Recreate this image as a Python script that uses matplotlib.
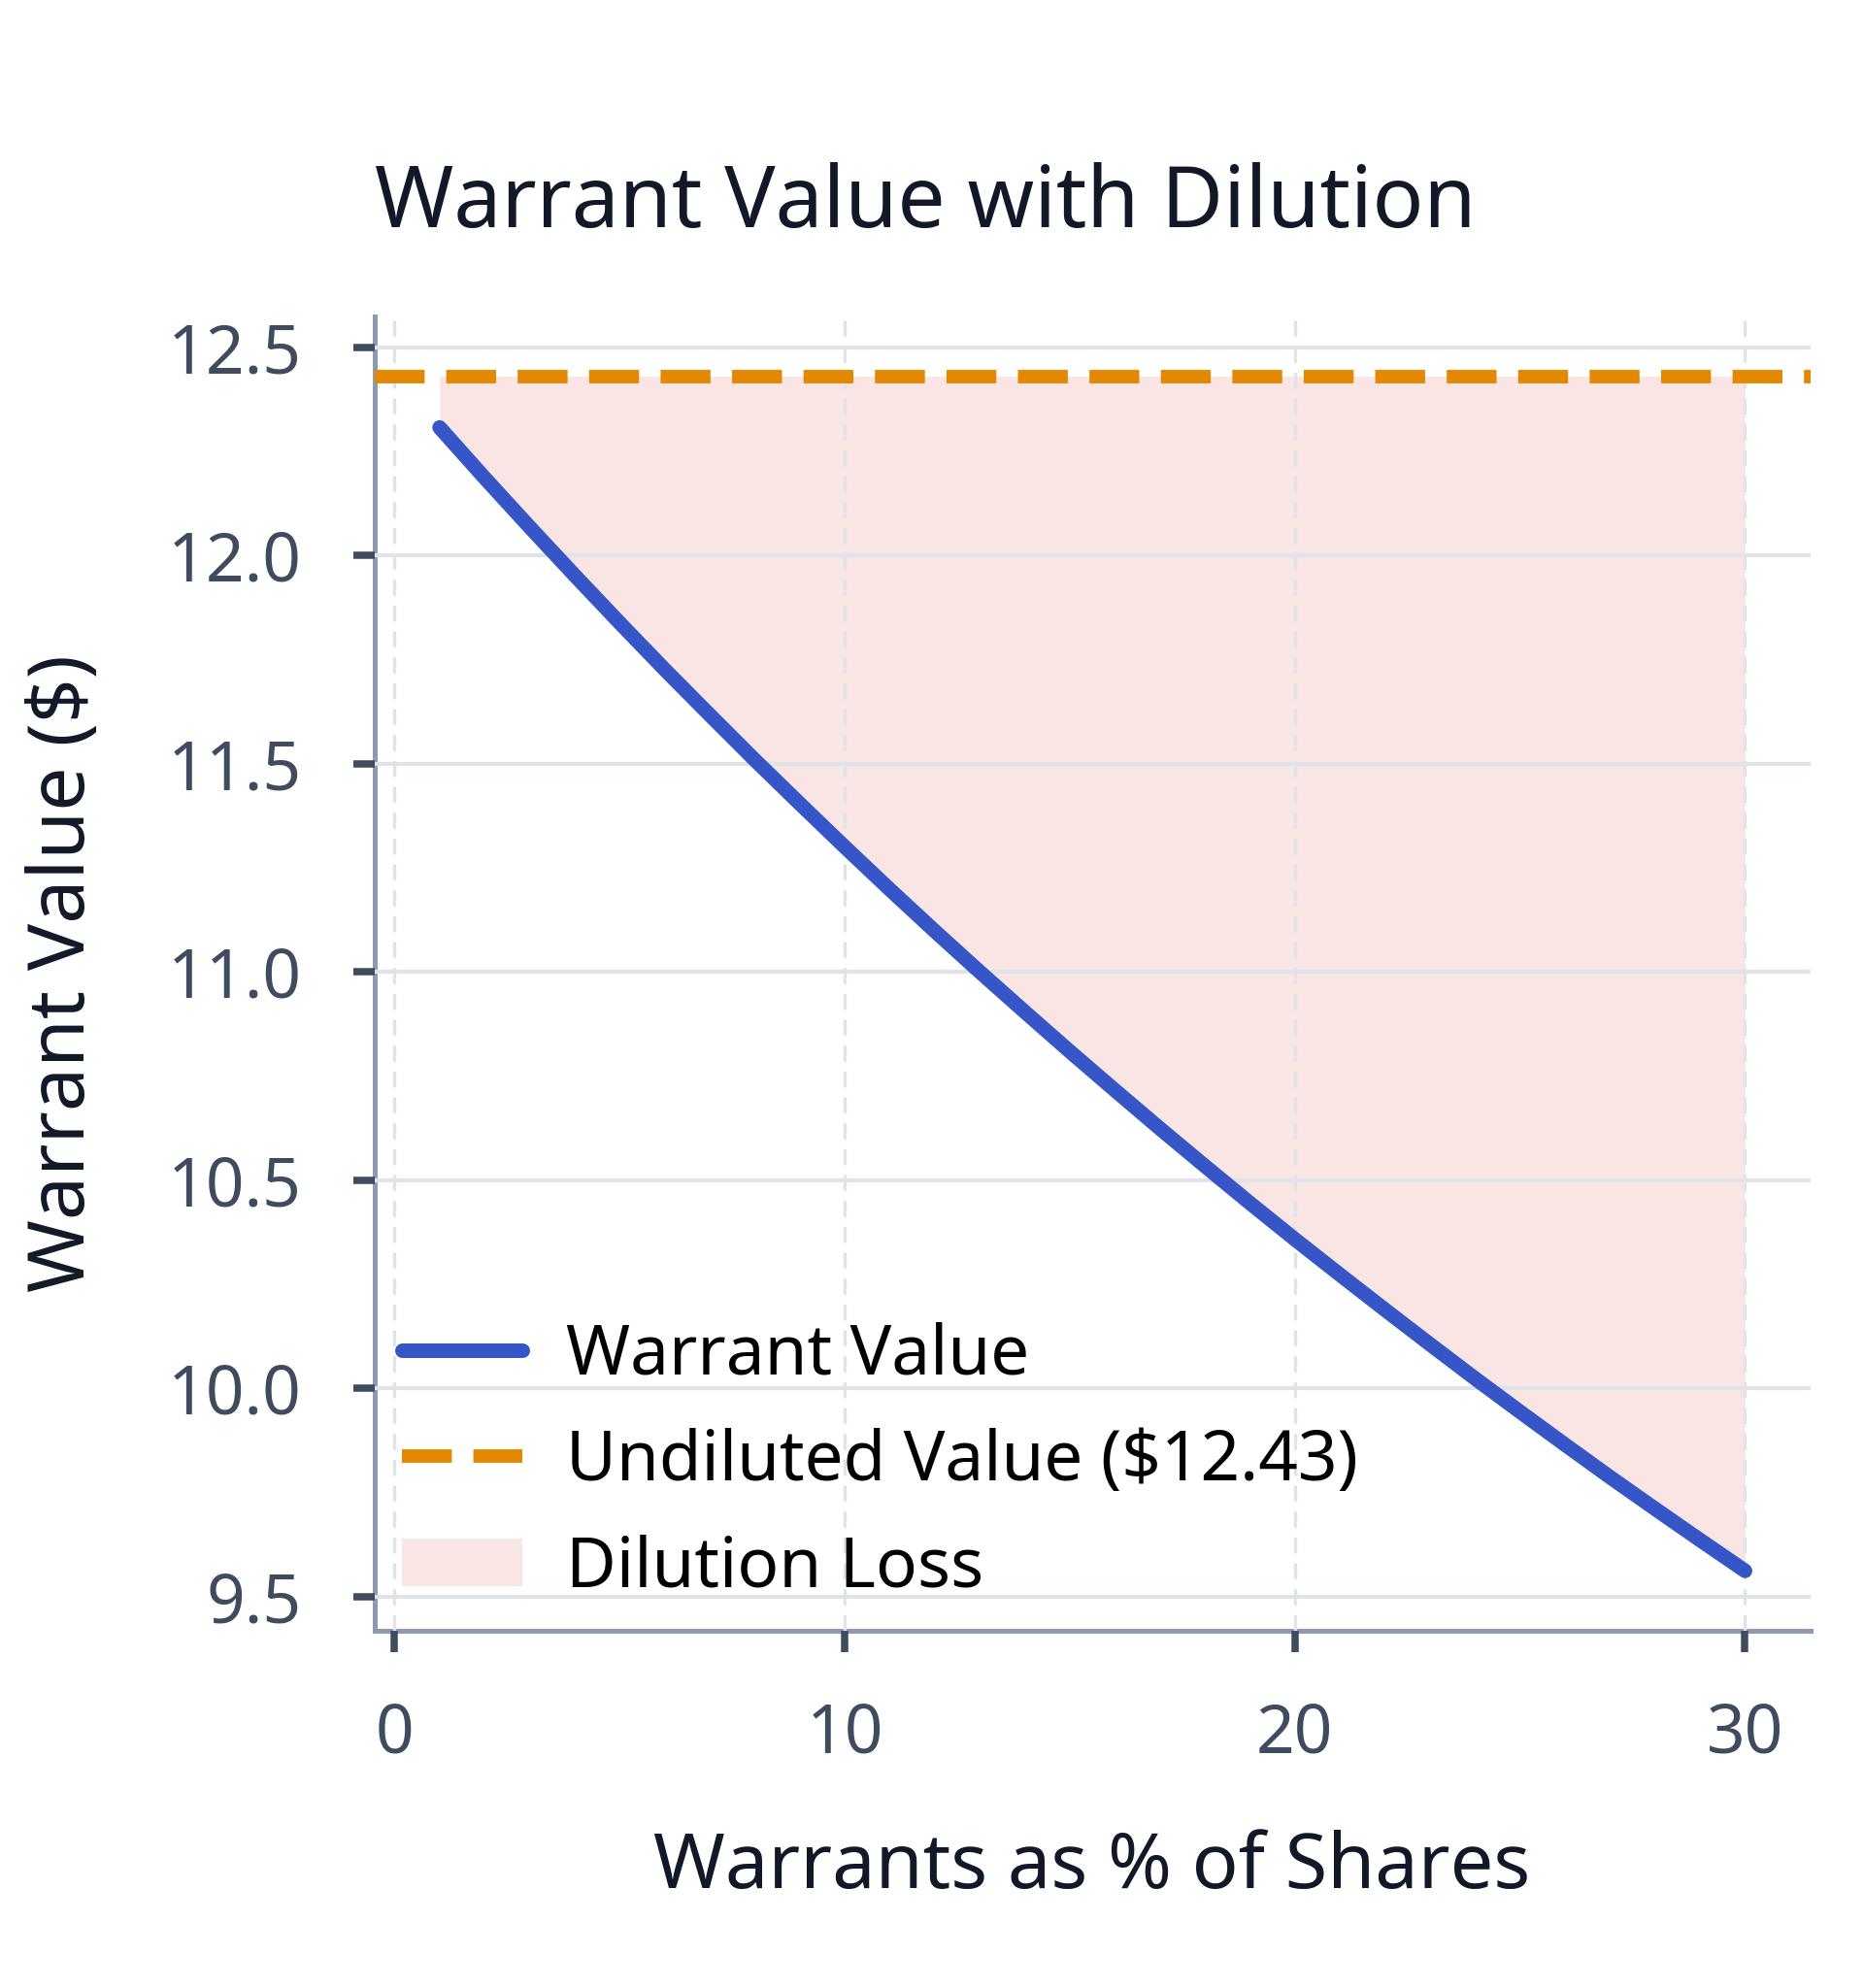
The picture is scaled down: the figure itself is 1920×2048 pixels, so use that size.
import matplotlib
matplotlib.use("Agg")
import matplotlib.pyplot as plt

# 数据：认股权证占股份比例 (%) 与稀释后价值
warrant_pct = list(range(1, 31))
warrant_value = [12.307, 12.186, 12.068, 11.952, 11.838, 11.726, 11.617, 11.509, 11.404, 11.300,
                 11.198, 11.098, 11.000, 10.904, 10.809, 10.716, 10.624, 10.534, 10.445, 10.358,
                 10.273, 10.189, 10.106, 10.024, 9.944, 9.865, 9.787, 9.711, 9.636, 9.562]
undiluted_value = 12.43
x_ticks = [0, 10, 20, 30]
y_ticks = [9.5, 10.0, 10.5, 11.0, 11.5, 12.0, 12.5]

plt.rcParams['font.family'] = ['Noto Sans', 'DejaVu Sans']

fig = plt.figure(figsize=(9.6, 10.24), dpi=200)
ax = fig.add_axes([0.2008, 0.1798, 0.7704, 0.661])

# 稀释损失区域
ax.fill_between(warrant_pct, warrant_value, undiluted_value,
                color='#d9534f', alpha=0.15, linewidth=0, label='Dilution Loss', zorder=2)
ax.plot(warrant_pct, warrant_value, color='#3656c8', linewidth=5.4,
        solid_capstyle='round', label='Warrant Value', zorder=4)
ax.axhline(undiluted_value, color='#e38800', linestyle='--', linewidth=5.0,
           label=f'Undiluted Value (${undiluted_value:.2f})', zorder=3)

ax.set_xticks(x_ticks)
ax.set_yticks(y_ticks)
ax.yaxis.set_major_formatter(matplotlib.ticker.FormatStrFormatter('%.1f'))

# 网格：横线实线，竖线虚线
ax.grid(axis='y', color='#e0e3e9', linewidth=1.5, linestyle='-', zorder=1)
ax.grid(axis='x', color='#e0e3e9', linewidth=1.2, linestyle=(0, (5, 3)), zorder=1)
ax.set_axisbelow(False)

for side in ['top', 'right']:
    ax.spines[side].set_visible(False)
for side in ['left', 'bottom']:
    ax.spines[side].set_color('#8d9bb0')
    ax.spines[side].set_linewidth(1.8)

ax.tick_params(axis='both', colors='#3f4b5e', labelsize=25, length=8, width=2.7)
ax.tick_params(axis='x', pad=18.3)
ax.tick_params(axis='y', pad=19)

ax.set_title('Warrant Value with Dilution', loc='left', fontsize=31.5,
             color='#111827', pad=33)
ax.set_xlabel('Warrants as % of Shares', fontsize=28.6, color='#111827', labelpad=22.5)
ax.set_ylabel('Warrant Value ($)', fontsize=29, color='#111827', labelpad=24)

handles, labels = ax.get_legend_handles_labels()
order = [1, 2, 0]
ax.legend([handles[i] for i in order], [labels[i] for i in order],
          loc='lower left', frameon=False, fontsize=25.6, handlelength=1.75,
          handletextpad=0.62, labelspacing=0.54, borderaxespad=0.0, borderpad=0.4)

fig.savefig('out.png', dpi=200, facecolor='white')
